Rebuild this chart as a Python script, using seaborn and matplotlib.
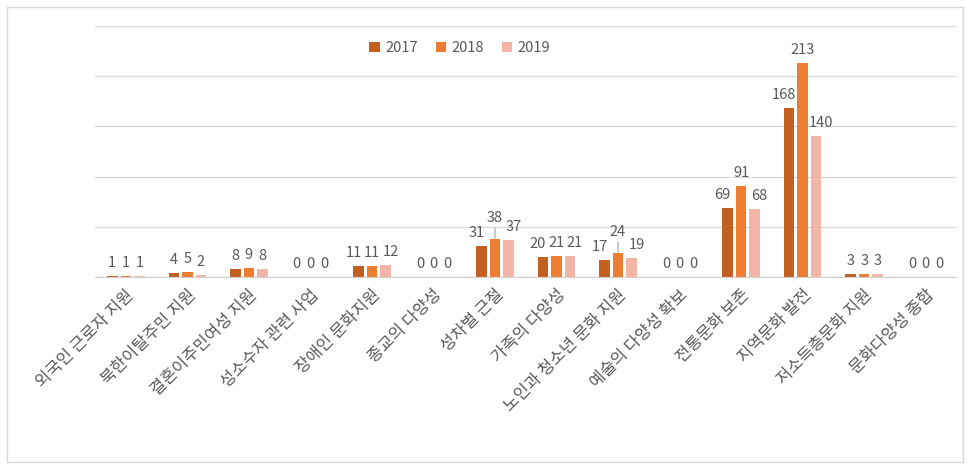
import pandas as pd
import matplotlib.pyplot as plt
import seaborn as sns
from matplotlib.patches import Rectangle

# Data
categories = ['외국인 근로자 지원', '북한이탈주민 지원', '결혼이주민여성 지원', '성소수자 관련 사업',
              '장애인 문화지원', '종교의 다양성', '성차별 근절', '가족의 다양성',
              '노인과 청소년 문화 지원', '예술의 다양성 확보', '전통문화 보존', '지역문화 발전',
              '저소득층문화 지원', '문화다양성 종합']
years = ['2017', '2018', '2019']
v2017 = [1, 4, 8, 0, 11, 0, 31, 20, 17, 0, 69, 168, 3, 0]
v2018 = [1, 5, 9, 0, 11, 0, 38, 21, 24, 0, 91, 213, 3, 0]
v2019 = [1, 2, 8, 0, 12, 0, 37, 21, 19, 0, 68, 140, 3, 0]
colors = ['#C45F22', '#ED7D31', '#F3B6A6']

df = pd.DataFrame({
    'category': categories * 3,
    'year': [y for y in years for _ in categories],
    'value': v2017 + v2018 + v2019,
})

sns.set_style('white')
plt.rcParams['font.family'] = ['Noto Sans CJK KR', 'DejaVu Sans']
grey = '#595959'

fig = plt.figure(figsize=(9.7, 4.66), dpi=100)
ax = fig.add_axes([0.098, 0.406, 0.888, 0.538])

sns.barplot(data=df, x='category', y='value', hue='year', order=categories,
            hue_order=years, palette=colors, width=0.66, gap=0.22, saturation=1,
            linewidth=0, errorbar=None, ax=ax)

# data labels, nudged apart like Excel does when they crowd
series = [v2017, v2018, v2019]
x_shift = [-5, 0, 5]
for k, cont in enumerate(ax.containers):
    for i, bar in enumerate(cont):
        val = series[k][i]
        cx = bar.get_x() + bar.get_width() / 2
        wide = max(v2017[i], v2018[i], v2019[i]) >= 10
        dx = x_shift[k] if wide else 0
        dy = 6
        leader = None
        if k == 1 and val > v2017[i] and val > v2019[i] and 10 <= val < 50:
            dy = 14
            leader = dict(arrowstyle='-', color='#A0A0A0', lw=0.8, shrinkA=0, shrinkB=0)
        ax.annotate(str(val), xy=(cx, val), xytext=(dx, dy),
                    textcoords='offset pixels', ha='center', va='bottom',
                    fontsize=10.5, color=grey, arrowprops=leader)

ax.set_ylim(0, 250)
ax.set_yticks(range(0, 251, 50))
ax.yaxis.grid(True, color='#D9D9D9', linewidth=0.9)
ax.set_axisbelow(True)
ax.set_yticklabels([])
ax.tick_params(axis='y', length=0)
ax.tick_params(axis='x', length=0, pad=7)
ax.set_xlabel('')
ax.set_ylabel('')
for s in ['top', 'left', 'right']:
    ax.spines[s].set_visible(False)
ax.spines['bottom'].set_color('#D0D0D0')
ax.set_xlim(-0.5, len(categories) - 0.5)

plt.setp(ax.get_xticklabels(), rotation=45, ha='right', rotation_mode='anchor',
         fontsize=12, color=grey)

ax.legend(loc='center', bbox_to_anchor=(0.474, 0.897), bbox_transform=fig.transFigure,
          ncol=3, frameon=False, fontsize=10.5, labelcolor=grey,
          handlelength=0.7, handleheight=0.7, handletextpad=0.4, columnspacing=1.2)

# light frame around the chart
fig.patches.append(Rectangle((0.007, 0.008), 0.986, 0.978, transform=fig.transFigure,
                             fill=False, edgecolor='#D9D9D9', linewidth=1))

plt.savefig('out.png', dpi=100)
plt.close()
